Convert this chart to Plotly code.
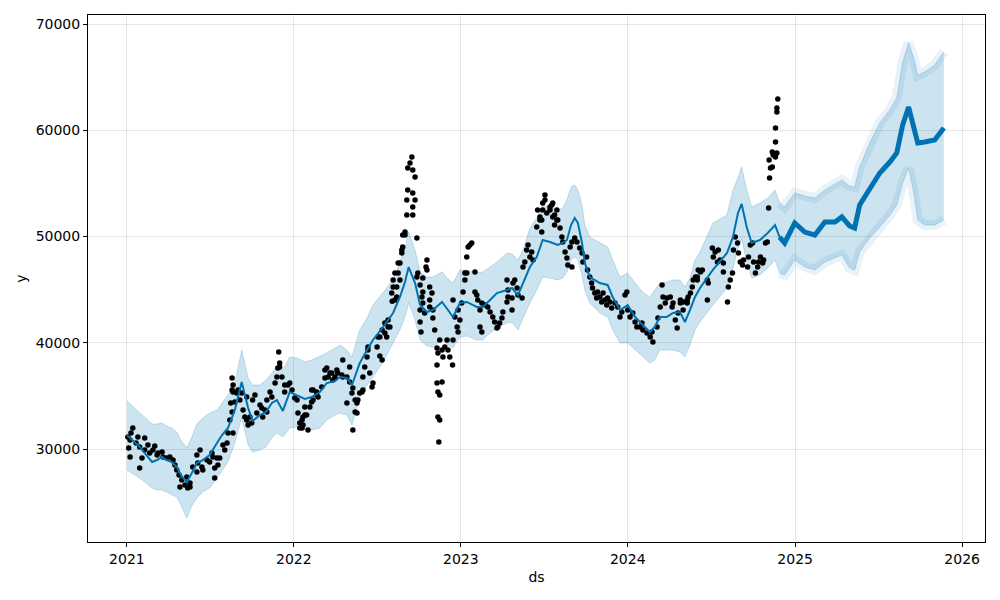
import pandas as pd
import plotly.graph_objects as go

START = pd.Timestamp("2021-01-01")

# ---- observations (day offset from 2021-01-01, value) ----
obs21_day = [2,4,7,7,9,13,20,24,28,28,33,39,39,46,50,57,61,66,68,77,
             79,87,94,101,105,109,114,116,120,127,131,133,138,138,144,153,153,155,160,164,
             166,175,181,186,188,192,192,197,199,203,210,214,219,221,225,227,230,232,230,230,
             232,232,236,240,243,247,251,254,258,262,262,265,269,273,275,280,284,291,295,297,
             302,306,306,313,317,324,328,330,332,334,334,339,345,345,352,356,361]
obs21_y = [31130,30090,29250,30850,31510,31980,30560,31130,30190,28210,
           29150,31040,29910,30380,29620,29910,30280,29440,29620,29720,
           29250,29150,29250,28960,28490,28020,27550,26420,27080,26610,
           27360,26330,26800,26420,28310,27840,29440,28680,29910,28310,
           28020,28960,28780,29620,29250,28210,27270,29150,28490,29150,
           30380,29910,30560,31510,32730,34330,33480,31510,35550,36680,
           36020,35360,34420,35270,35550,34610,35270,33670,33010,34890,
           32730,32260,33010,32450,34610,35080,33390,34140,33860,33010,
           33670,34610,33480,35360,34890,36210,36780,37620,39130,38090,
           37720,36780,36020,35360,36020,36210,35550]

obs22_day = [367,372,374,378,378,383,383,385,385,389,389,393,396,400,404,404,407,407,415,415,
             418,426,433,433,437,440,444,448,450,455,459,461,470,472,472,481,481,487,487,492,
             494,494,499,499,503,503,505,509,514,516,516,520,525,527,527,531,536,538,547,549,
             553,553,558,558,564,564,568,571,571,575,579,580,582,582,586,586,590,590,593,593,
             597,597,601,601,603,603,608,608,612,612,614,614,619,623,625,625,625,625,630,630,
             634,634,636,641,641,641,643,645,647,647,647,651,654,656,656,662,662,662,667,669,
             669,673,678,678,678,680,680,680,682,684,684,684,689,689,691,695,700,702,706,712,
             713,713,717,722,724,724,728]
obs22_y = [34800,34610,33390,31980,32450,32730,31980,32260,33010,33200,
           33950,33200,31790,33950,34420,35550,34610,35550,35360,35080,
           34890,35840,36680,37440,37620,36780,37150,37150,36490,36780,
           37440,37150,36960,38380,36780,36780,34330,36310,37720,35270,
           35740,31790,34610,33480,33390,34330,34610,35270,35360,35550,
           36780,37720,38660,39320,39600,37150,35840,36210,39600,40540,
           38750,40540,41200,38380,41860,40920,40540,42140,41480,41480,
           44680,43900,45250,45910,44020,46570,44310,45250,47510,46570,
           47510,45910,48730,48450,49010,50140,50420,50140,52020,53440,
           54380,56450,56920,57480,56260,54100,52780,52020,55600,53440,
           49860,46190,46570,45440,43080,41950,41010,44310,44780,46090,
           43740,42800,47130,47790,46850,45250,44020,43370,44680,43080,
           42330,41200,39510,37910,36210,39040,35360,33010,30660,40260,
           35080,32730,39320,36310,38660,39600,40260,39320,38660,37910,
           40260,44020,42420,41480,41010,43080,42140]

obs23_day = [732,735,739,739,743,743,746,750,754,761,761,765,767,772,772,776,776,783,789,794,
             800,804,809,811,815,820,822,831,831,833,833,842,842,844,848,853,855,864,866,870,
             874,877,881,885,888,896,898,903,903,907,907,909,909,914,914,918,925,925,929,931,
             931,935,935,940,940,942,947,951,953,958,962,964,969,973,973,979,984,990,995,997,
             1005,1007,1012,1016,1018,1023,1027,1029,1034,1038,1041,1045,1049,1051,1056,1060,
             1067,1073,1078,1082,1089,1093]
obs23_y = [43740,44780,45910,46570,46570,48070,49010,49200,49390,46660,
           44780,44490,44020,43080,41480,41010,43740,43550,43370,42890,
           42420,41950,41390,41480,41860,42330,42890,43840,45910,44970,
           44310,44210,43080,45620,45910,45150,44490,44210,47130,47600,
           48730,49200,48070,48540,47790,50890,52500,51840,51550,51550,
           50420,53150,52500,53910,53440,52210,52500,52780,52970,53150,
           51840,51080,52020,52500,51550,51550,50800,49950,49480,48540,
           47980,47320,49010,47130,49480,49860,49480,48920,48450,47600,
           48070,46850,46190,45620,45150,44680,44210,44780,44310,43840,
           44680,44020,43550,44210,43840,43270,43740,43370,42420,42890,
           44490,44780]

obs24_day = [1095,1100,1106,1111,1115,1122,1126,1128,1137,1144,1148,1150,1159,1161,1166,1170,1172,1177,1181,1188,
             1192,1194,1199,1203,1205,1210,1210,1216,1216,1225,1225,1227,1232,1236,1238,1243,1247,1247,1249,1254,
             1258,1269,1269,1271,1280,1282,1286,1291,1293,1297,1304,1304,1313,1315,1319,1324,1326,1330,1335,1337,
             1341,1346,1348,1357,1359,1363,1368,1370,1374,1379,1381,1385,1390,1392,1396,1400,1403,1404,1405,1407,
             1411,1411,1413,1418,1418,1418,1421,1421,1421,1423]
obs24_y = [43080,42420,42800,41950,41480,41480,41860,41200,40920,40540,
           41010,40070,41480,42330,43370,45440,44310,43740,44210,44310,
           43370,43740,42140,41390,42800,43740,44020,43080,43840,44020,
           43740,44310,44680,45250,45910,46190,46190,45910,46850,46660,
           46850,45910,44020,45620,48920,48070,48540,47600,48730,47790,
           47510,46660,43840,45250,45910,46570,48730,49950,49390,48450,
           47600,47320,47790,47130,48070,49200,49390,47600,46570,47130,
           47600,48070,47510,47790,49390,49480,52680,57200,55510,56450,
           56540,57950,57670,57480,58890,60210,57860,61720,62090,62940]

# ---- model fit / forecast (day offset, yhat, lower, upper) ----
LAST_OBS_DAY = 1423
fc_day = [0,28,55,66,77,87,98,109,118,131,
          142,153,166,181,197,208,221,236,251,265,
          275,291,304,317,328,341,356,372,389,404,
          422,437,455,466,481,492,509,525,538,560,
          582,597,608,616,630,641,656,669,689,702,
          713,728,743,765,778,794,809,831,842,855,
          866,881,896,909,925,942,953,962,971,979,
          986,995,1001,1012,1034,1051,1062,1078,1095,1111,
          1128,1143,1154,1165,1180,1194,1209,1220,1231,1242,
          1253,1281,1312,1325,1336,1344,1355,1366,1384,1401,
          1417,1427,1438,1460,1482,1504,1526,1548,1563,1580,
          1591,1602,1624,1646,1668,1683,1696,1709,1720,1729,
          1744,1766,1786]
fc_yhat = [31320,30190,28780,28960,29250,28960,28780,28310,27550,26890,
           27740,28680,28960,29440,30560,31320,31980,33670,36310,33860,
           32640,33200,33480,34330,34610,33580,35360,35080,34710,34890,
           35360,36210,36400,36780,36680,36020,38090,39320,40260,41480,
           42800,44310,45720,47130,45620,43550,42890,43080,43840,43080,
           42420,43740,43840,43370,43370,44020,44680,44970,45150,44490,
           45620,47130,48070,49670,49480,49200,49390,49670,51080,51740,
           51270,49390,47510,46190,45620,45440,44310,43080,43550,42420,
           41670,41010,41480,42420,42420,42800,42890,41950,43080,44310,
           45150,46850,48450,49950,52210,53060,50890,49390,49670,50330,
           51080,49950,49390,51270,50420,50140,51370,51370,51840,50990,
           50800,52970,54570,55980,57010,57860,60490,62190,60310,58800,
           58890,59080,60210]
fc_upper = [34520,33390,32350,32350,32450,32160,31980,31600,30850,30090,
            31130,32350,32920,33390,33670,34330,35080,36210,39320,36680,
            36020,36020,36490,37150,37720,37440,38660,38560,38190,38380,
            38750,39040,39510,39790,39320,38660,41200,42330,43550,44780,
            45910,47600,48920,50420,48730,46660,46190,46190,46660,46000,
            45620,46850,46850,46570,46660,47130,47600,48450,48350,47790,
            48730,50800,51740,52970,52680,52500,52680,53440,54660,54850,
            54380,52970,51080,49950,49390,49010,47790,46190,46570,45620,
            44780,44310,44970,45620,45720,45910,45910,45250,46090,47790,
            48540,51270,52020,54380,55510,56540,54380,52780,53150,53620,
            54380,53150,52780,54100,53810,53620,54380,54940,55320,54750,
            54660,56540,58800,60680,61910,63040,66420,68210,66800,65200,
            65480,66140,67370]
fc_lower = [28020,27270,26330,26140,26140,25950,25760,25480,24730,23510,
            24640,25390,25950,26330,27270,28020,28780,30560,33010,30380,
            29720,29910,30190,31040,31510,31130,31980,32070,31790,31790,
            31980,32730,33200,33390,33200,32260,34800,36020,36780,38190,
            39980,41200,42420,43740,42140,40260,39690,39600,40260,39790,
            39510,40540,40640,40260,40260,40920,41390,41860,41950,41200,
            42330,43740,44970,46190,46090,45910,46090,46660,47790,48070,
            47790,46380,44970,43740,42800,42420,41200,39980,39980,39320,
            38660,38090,38380,39320,39320,39320,39130,38660,39790,41200,
            41950,43550,45150,47040,48920,49770,47600,46090,46380,47040,
            47790,46570,46380,47790,47130,46850,47600,47980,48260,47040,
            46850,48540,49860,50890,52020,52970,55040,56450,54190,51550,
            51080,51080,51550]

x_ticks = ["2021-01-01", "2022-01-01", "2023-01-01", "2024-01-01", "2025-01-01", "2026-01-01"]
x_tick_text = ["2021", "2022", "2023", "2024", "2025", "2026"]
y_ticks = [30000, 40000, 50000, 60000, 70000]


def to_dates(days):
    return START + pd.to_timedelta(days, unit="D")


obs_day = obs21_day + obs22_day + obs23_day + obs24_day
obs_y = obs21_y + obs22_y + obs23_y + obs24_y
obs_dates = to_dates(obs_day)
fc_dates = to_dates(fc_day)

fut_idx = [i for i, d in enumerate(fc_day) if d > LAST_OBS_DAY]
fut_dates = [fc_dates[i] for i in fut_idx]

BLUE = "#0072B2"
BAND = "rgba(0,114,178,0.2)"
FONT = "DejaVu Sans"

fig = go.Figure()
fig.add_trace(go.Scatter(x=fc_dates, y=fc_lower, mode="lines",
                         line=dict(color=BAND, width=1), hoverinfo="skip", showlegend=False))
fig.add_trace(go.Scatter(x=fc_dates, y=fc_upper, mode="lines", fill="tonexty",
                         fillcolor=BAND, line=dict(color=BAND, width=1),
                         hoverinfo="skip", showlegend=False))
# weekly ripple of the future band edges (drawn as wider pale strokes)
fig.add_trace(go.Scatter(x=fut_dates, y=[fc_upper[i] for i in fut_idx], mode="lines",
                         line=dict(color="rgba(0,114,178,0.09)", width=10),
                         hoverinfo="skip", showlegend=False))
fig.add_trace(go.Scatter(x=fut_dates, y=[fc_lower[i] for i in fut_idx], mode="lines",
                         line=dict(color="rgba(0,114,178,0.09)", width=10),
                         hoverinfo="skip", showlegend=False))
fig.add_trace(go.Scatter(x=obs_dates, y=obs_y, mode="markers",
                         marker=dict(color="black", size=5.5), showlegend=False))
fig.add_trace(go.Scatter(x=fc_dates, y=fc_yhat, mode="lines",
                         line=dict(color=BLUE, width=2), showlegend=False))
fig.add_trace(go.Scatter(x=fut_dates, y=[fc_yhat[i] for i in fut_idx], mode="lines",
                         line=dict(color=BLUE, width=5), showlegend=False))

axis_common = dict(showgrid=True, gridcolor="rgba(128,128,128,0.2)", gridwidth=1,
                   showline=True, linecolor="black", linewidth=1, mirror=True,
                   ticks="outside", ticklen=4, tickcolor="black", tickwidth=1,
                   zeroline=False, tickfont=dict(family=FONT, size=14, color="black"))

fig.update_layout(
    width=1000, height=600,
    margin=dict(l=88, r=15, t=15, b=58),
    paper_bgcolor="white", plot_bgcolor="white",
    font=dict(family=FONT, size=14, color="black"),
    xaxis=dict(type="date", range=["2020-10-08", "2026-02-20"],
               tickmode="array", tickvals=x_ticks, ticktext=x_tick_text,
               title=dict(text="ds", font=dict(family=FONT, size=14), standoff=6),
               **axis_common),
    yaxis=dict(range=[21247, 70848], tickmode="array", tickvals=y_ticks,
               ticktext=[str(v) for v in y_ticks],
               title=dict(text="y", font=dict(family=FONT, size=14), standoff=5),
               **axis_common),
)

fig.write_html("out.html")
